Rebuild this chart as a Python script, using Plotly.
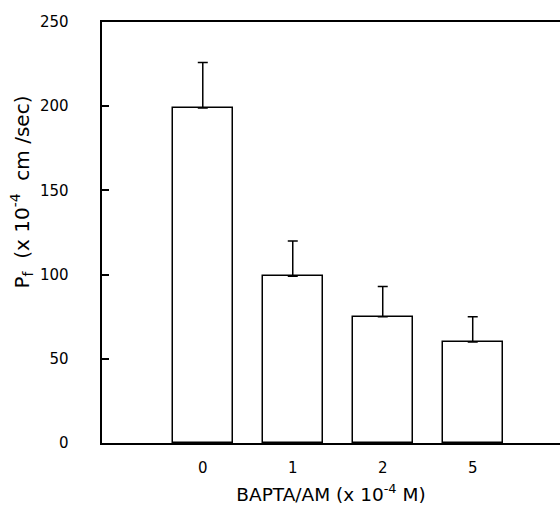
import plotly.graph_objects as go

categories = ["0", "1", "2", "5"]
values = [199, 99, 75, 60]
errors = [27, 21, 18, 15]
y_ticks = [0, 50, 100, 150, 200, 250]

xpos = list(range(len(categories)))

fig = go.Figure()
fig.add_trace(go.Bar(
    x=xpos, y=values, width=0.67,
    marker=dict(color="white", line=dict(color="black", width=1.5)),
    error_y=dict(type="data", array=errors, symmetric=False, arrayminus=[0]*4,
                 color="black", thickness=1.5, width=5),
    showlegend=False,
))

fam = "DejaVu Sans, Arial, sans-serif"
font = dict(family=fam, size=15, color="black")

fig.update_layout(
    width=560, height=513,
    margin=dict(l=102, r=0, t=22, b=70),
    plot_bgcolor="white", paper_bgcolor="white",
    font=font,
    bargap=0,
    xaxis=dict(
        range=[-1.12, 3.97], tickmode="array", tickvals=xpos, ticktext=categories,
        showline=True, linecolor="black", linewidth=1.5, mirror=True,
        ticks="", showgrid=False, zeroline=False,
        ticklabelstandoff=10,
        title=dict(text="BAPTA/AM (x 10<sup>-4</sup> M)", font=dict(family=fam, size=18.5, color="black"), standoff=12),
    ),
    yaxis=dict(
        range=[0, 250], tickmode="array", tickvals=y_ticks,
        ticktext=[f"{v}\u2007\u2007\u2007" for v in y_ticks],
        showline=True, linecolor="black", linewidth=1.5,
        ticks="inside", ticklen=7, tickwidth=1.5, tickcolor="black",
        showgrid=False, zeroline=False,
    ),
    annotations=[dict(
        text="P<sub>f</sub>  (x 10<sup>-4</sup>  cm /sec)",
        xref="paper", yref="paper", x=-(102-22)/458, y=0.595,
        textangle=-90, showarrow=False, font=dict(family=fam, size=20, color="black"),
        xanchor="center", yanchor="middle",
    )],
)

fig.write_html("out.html")
